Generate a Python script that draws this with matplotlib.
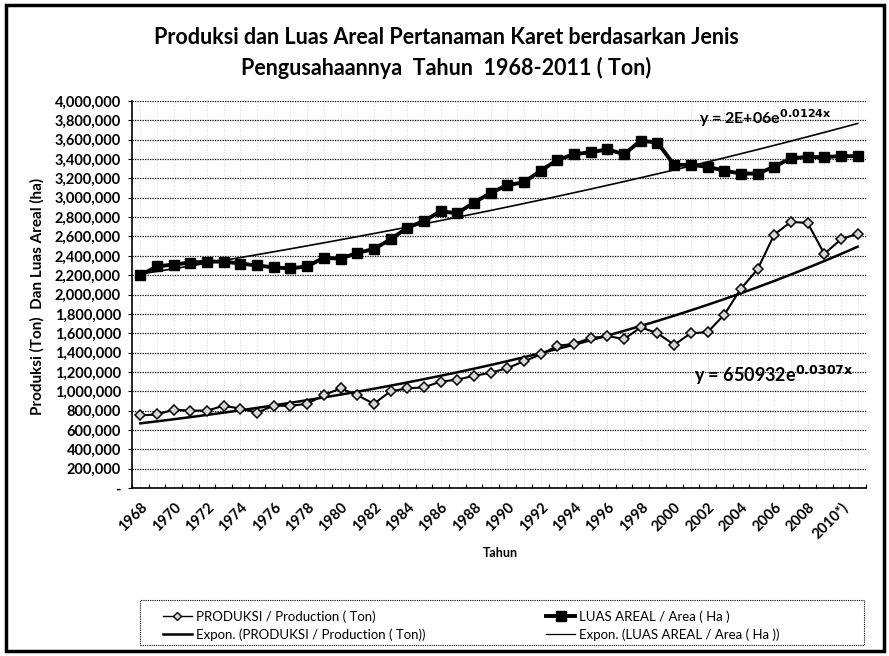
import numpy as np
import matplotlib
matplotlib.use("Agg")
import matplotlib.pyplot as plt
from matplotlib.ticker import FuncFormatter, FixedLocator
from matplotlib.patches import Rectangle
from matplotlib.lines import Line2D

plt.rcParams['font.family'] = ['Lato', 'DejaVu Sans']

# data (1968 - 2011)
years = [str(y) for y in range(1968, 2012)]
years[42] = "2010*)"

produksi = [750000, 760000, 810000, 800000, 800000, 850000, 820000, 780000, 850000, 850000,
            870000, 960000, 1030000, 960000, 870000, 1000000, 1030000, 1040000, 1100000, 1120000,
            1160000, 1190000, 1240000, 1310000, 1380000, 1470000, 1490000, 1550000, 1570000, 1540000,
            1660000, 1600000, 1480000, 1600000, 1610000, 1790000, 2060000, 2260000, 2620000, 2750000,
            2740000, 2420000, 2570000, 2630000]

luas = [2200000, 2290000, 2310000, 2330000, 2340000, 2340000, 2320000, 2300000, 2280000, 2270000,
        2290000, 2380000, 2370000, 2430000, 2470000, 2570000, 2690000, 2760000, 2860000, 2840000,
        2950000, 3050000, 3130000, 3160000, 3280000, 3390000, 3450000, 3470000, 3500000, 3450000,
        3590000, 3570000, 3340000, 3340000, 3320000, 3280000, 3250000, 3250000, 3320000, 3410000,
        3420000, 3420000, 3430000, 3430000]

label_prod = "PRODUKSI / Production ( Ton)"
label_luas = "LUAS AREAL / Area ( Ha )"
eq_luas = "y = 2E+06e$^{\\mathbf{0.0124x}}$"
eq_prod = "y = 650932e$^{\\mathbf{0.0307x}}$"

W, H = 889, 656
fig = plt.figure(figsize=(W / 100, H / 100), dpi=100)

# outer chart frame
fig.patches.append(Rectangle((6 / W, 5 / H), 878 / W, 646 / H, transform=fig.transFigure,
                             fill=False, edgecolor='black', linewidth=2.5))

ax = fig.add_axes([132 / W, 1 - 488 / H, 734 / W, 387 / H])

x = np.arange(len(years))

# exponential trendlines (Excel style, x = 1..n)
xt = np.arange(1, len(years) + 1)
b_p, lna_p = np.polyfit(xt, np.log(produksi), 1)
b_l, lna_l = np.polyfit(xt, np.log(luas), 1)
trend_p = np.exp(lna_p) * np.exp(b_p * xt)
trend_l = np.exp(lna_l) * np.exp(b_l * xt)

# faint vertical grid
for xi in x:
    ax.axvline(xi, color='#d0d0d0', linestyle=(0, (1, 2)), linewidth=0.6, zorder=0)

ax.plot(x, trend_l, color='black', linewidth=1.2, zorder=2)
ax.plot(x, trend_p, color='black', linewidth=1.8, zorder=2)
ax.plot(x, produksi, color='black', linewidth=1.5, marker='D', markersize=5.5,
        markerfacecolor='#d8d8d8', markeredgecolor='black', markeredgewidth=1.1, zorder=3)
ax.plot(x, luas, color='black', linewidth=2.8, marker='s', markersize=7,
        markerfacecolor='black', markeredgecolor='black', zorder=3)

ax.set_xlim(-0.5, len(years) - 0.5)
ax.set_ylim(0, 4000000)
ax.set_yticks(np.arange(0, 4000001, 200000))
ax.yaxis.set_major_formatter(FuncFormatter(lambda v, p: "-" if v == 0 else f"{int(v):,}"))
ax.yaxis.grid(True, color='black', linestyle=(0, (1, 1)), linewidth=0.9)
ax.set_axisbelow(True)

ax.xaxis.set_major_locator(FixedLocator(x[::2]))
ax.set_xticklabels(years[::2], rotation=45, ha='right', rotation_mode='anchor',
                   fontsize=10.5, fontweight='bold')
ax.xaxis.set_minor_locator(FixedLocator(np.arange(-0.5, len(years), 1)))
ax.tick_params(axis='x', which='major', length=0, pad=9)
ax.tick_params(axis='x', which='minor', length=3, direction='in', width=0.8)
ax.tick_params(axis='y', length=3, width=0.8, labelsize=10.5, pad=5)
for t in ax.get_yticklabels():
    t.set_fontweight('bold')

for s in ['top', 'right']:
    ax.spines[s].set_visible(False)
ax.spines['left'].set_linestyle((0, (1, 1)))
ax.spines['left'].set_linewidth(1.2)
ax.spines['bottom'].set_linewidth(1.2)

fig.text(37 / W, 1 - 296 / H, "Produksi (Ton)  Dan Luas Areal (ha)", rotation=90,
         ha='center', va='center', fontsize=11, fontweight='bold')
fig.text(500 / W, 1 - 553 / H, "Tahun", ha='center', va='center',
         fontsize=9, fontweight='bold')

fig.text(446 / W, 1 - 37 / H, "Produksi dan Luas Areal Pertanaman Karet berdasarkan Jenis",
         ha='center', va='center', fontsize=15.5, fontweight='bold')
fig.text(446 / W, 1 - 68 / H, "Pengusahaannya  Tahun  1968-2011 ( Ton)",
         ha='center', va='center', fontsize=15.5, fontweight='bold')

ax.text(0.772, 0.955, eq_luas, transform=ax.transAxes,
        fontsize=11.5, fontweight='bold', ha='left', va='center')
ax.text(0.765, 0.29, eq_prod, transform=ax.transAxes,
        fontsize=13, fontweight='bold', ha='left', va='center')

# legend (row-major order as in the original)
handles = [
    Line2D([], [], color='black', linewidth=1.0, marker='D', markersize=4,
           markerfacecolor='#d8d8d8', markeredgecolor='black'),
    Line2D([], [], color='black', linewidth=1.8),
    Line2D([], [], color='black', linewidth=2.8, marker='s', markersize=7,
           markerfacecolor='black'),
    Line2D([], [], color='black', linewidth=0.9),
]
labels = [label_prod, "Expon. (" + label_prod + ")",
          label_luas, "Expon. (" + label_luas + ")"]
fig.patches.append(Rectangle((140 / W, 1 - 645 / H), 724 / W, 45 / H, transform=fig.transFigure,
                             fill=False, edgecolor='black', linewidth=0.8,
                             linestyle=(0, (1, 1))))
fig.legend(handles, labels, loc='upper left', bbox_to_anchor=(152 / W, 1 - 600 / H),
           ncol=2, fontsize=9.5, frameon=False, handlelength=2.2, handletextpad=0.3,
           columnspacing=9.2, borderpad=0.3, labelspacing=0.4)

fig.savefig("out.png", dpi=100)
